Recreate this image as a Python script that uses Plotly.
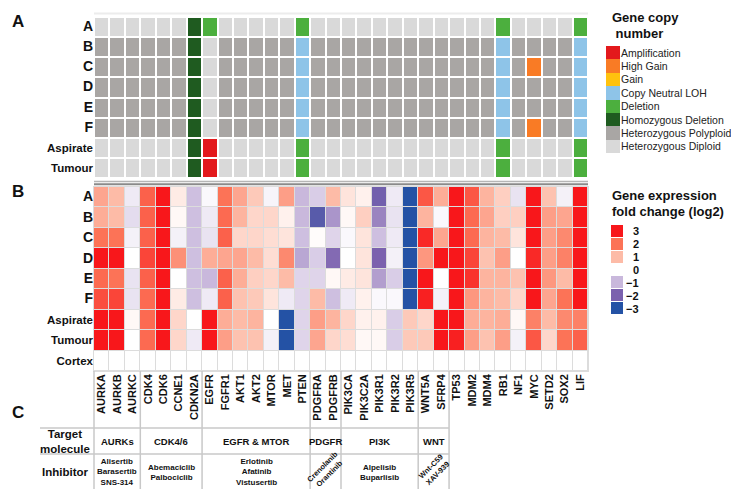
import plotly.graph_objects as go

W, H = 739, 489

genes = ["AURKA", "AURKB", "AURKC", "CDK4", "CDK6", "CCNE1", "CDKN2A", "EGFR", "FGFR1", "AKT1",
         "AKT2", "MTOR", "MET", "PTEN", "PDGFRA", "PDGFRB", "PIK3CA", "PIK3C2A", "PIK3R1", "PIK3R2",
         "PIK3R5", "WNT5A", "SFRP4", "TP53", "MDM2", "MDM4", "RB1", "NF1", "MYC", "SETD2", "SOX2", "LIF"]
rows_a = ["A", "B", "C", "D", "E", "F", "Aspirate", "Tumour"]
rows_b = rows_a + ["Cortex"]

cn_categories = ["Amplification", "High Gain", "Gain", "Copy Neutral LOH", "Deletion",
                 "Homozygous Deletion", "Heterozygous Polyploid", "Heterozygous Diploid"]
cn_colors = ["#E3191C", "#F97B25", "#FFC20E", "#8EC4E8", "#4CAF3E", "#1F5B20", "#A9A6A4", "#D9D9D9"]
# codes: M amplification, H high gain, G gain, L CN-LOH, D deletion, Z homozygous deletion,
#        P heterozygous polyploid, . heterozygous diploid
cn_code_order = "MHGLDZP."

cn_A = "......ZD.....D............D....D"
cn_B = "PPPPPPZ.PPPPPLPPPPPPPPPPPPLPPPPL"
cn_C = "PPPPPPZ.PPPPPLPPPPPPPPPPPPLPHPPL"
cn_D = "PPPPPPZ.PPPPPLPPPPPPPPPPPPLPPPPL"
cn_E = "PPPPPPZ.PPPPPLPPPPPPPPPPPPLPPPPL"
cn_F = "PPPPPPZ.PPPPPLPPPPPPPPPPPPLPHPPL"
cn_Asp = "......ZM.....D............D....D"
cn_Tum = "......ZM.....D............D....D"
cn_rows = [cn_A, cn_B, cn_C, cn_D, cn_E, cn_F, cn_Asp, cn_Tum]

ex_A = [1.3, 1.0, -0.3, 2.2, 3, 0.3, -0.9, -0.1, 2.0, 1.3, 0.8, -0.15, 1.4, -1.0, -0.7, 1.0,
        0.4, 0.2, -2.1, -0.3, -3, 2.3, 1.2, 3, 2.3, 1.1, 0.7, -0.4, 3, 0.9, -0.2, 3]
ex_B = [1.2, 1.0, -0.5, 2.2, 3, 0.1, -0.9, -0.3, 2.1, 1.1, 0.6, 0.6, 0.2, -1.0, -2.4, -1.4,
        0.1, 0.7, -1.6, -0.4, -3, 1.1, -0.1, 3, 2.1, 1.3, 0.7, 0.7, 3, 1.4, 1.3, 3]
ex_C = [2.0, 2.0, -0.2, 2.2, 3, -0.2, -0.9, -0.4, 2.2, 0.6, 0.6, 0.5, 0.4, -0.9, 0.05, -0.6,
        -0.1, 0.4, -0.9, -0.3, -3, 2.8, 1.3, 3, 2.1, 1.1, 1.0, 0.4, 3, 1.4, 1.7, 3]
ex_D = [3, 3, 0.0, 2.5, 3, 1.6, -0.9, 1.2, 1.3, 1.3, 1.0, 0.5, 1.7, -1.2, -0.7, -1.9,
        0.0, 0.4, -2.0, -0.2, -3, 1.5, 3, 3, 2.5, 0.9, 1.4, 0.0, 2.8, 1.4, 1.8, 3]
ex_E = [2.1, 2.0, -0.4, 2.2, 3, 0.0, -0.9, -1.0, 2.2, 1.2, 0.7, 0.6, 1.0, -0.6, -0.6, 0.1,
        0.3, 0.4, -1.3, -0.7, -3, 3, 0.0, 3, 2.7, 1.1, 1.1, 0.9, 3, 1.5, 1.0, 3]
ex_F = [2.4, 2.5, -0.4, 2.1, 3, 0.3, -0.9, -0.3, 2.2, 0.9, 0.8, 0.4, -0.3, -0.6, 1.0, -0.9,
        -0.3, 0.2, -0.1, -0.1, -3, 2.9, -0.2, 3, 1.5, 1.1, 1.0, 0.6, 3, 1.3, 2.0, 3]
ex_Asp = [3, 3, 0.1, 2.1, 3, 0.6, 0.0, 3, 1.2, 1.0, 1.1, 0.0, -3, -0.6, 1.4, 1.1,
          0.6, 0.2, 0.2, -0.7, 0.8, 0.6, 3, 3, 1.2, 1.1, 1.2, 0.1, 1.8, 1.0, 1.7, 1.8]
ex_Tum = [3, 3, 0.0, 2.1, 3, 0.6, -0.3, 3, 1.4, 0.9, 0.9, -0.2, -3, -0.6, 1.3, 0.6,
          0.5, 0.1, 0.1, -0.7, 0.8, 0.8, 3, 2.9, 1.4, 0.9, 1.4, -0.2, 2.3, 0.6, 2.0, 2.2]
ex_Cortex = [0] * 32
ex_rows = [ex_A, ex_B, ex_C, ex_D, ex_E, ex_F, ex_Asp, ex_Tum, ex_Cortex]

ex_levels = [3, 2, 1, 0, -1, -2, -3]
ex_level_labels = ["3", "2", "1", "0", "\u22121", "\u22122", "\u22123"]
ex_colorscale = [[0.0, "#2452A5"], [1 / 6, "#7B61AE"], [2 / 6, "#C9B8DC"], [0.5, "#FFFFFF"],
                 [4 / 6, "#FDBBA7"], [5 / 6, "#FC7357"], [1.0, "#F8171B"]]

groups = ["AURKs", "CDK4/6", "EGFR & MTOR", "PDGFR", "PI3K", "WNT"]
group_spans = [(0, 3), (3, 7), (7, 14), (14, 16), (16, 21), (21, 23)]
inhibitors = ["Alisertib<br>Barasertib<br>SNS-314", "Abemaciclib<br>Palbociclib",
              "Erlotinib<br>Afatinib<br>Vistusertib", "Crenolanib<br>Orantinib",
              "Alpelisib<br>Buparlisib", "Wnt-C59<br>XAV-939"]
inhibitor_angles = [0, 0, 0, -45, 0, -45]

# ---------- geometry (pixels) ----------
X0, X1 = 86, 580
CW = (X1 - X0) / len(genes)
A_TOP, A_BOT = 9, 170
B_TOP, B_BOT = 179, 363
FONT = "Liberation Sans, Arial, sans-serif"


def px(x):
    return x / W


def py(y):
    return 1 - y / H


cn_z = [[cn_code_order.index(c) for c in row] for row in cn_rows]
n_cn = len(cn_categories)
cn_scale = []
for i, c in enumerate(cn_colors):
    cn_scale.append([i / n_cn, c])
    cn_scale.append([(i + 1) / n_cn, c])


def row_tick(r):
    if len(r) == 1:
        return '<span style="font-size:14px">%s</span>' % r
    return r


fig = go.Figure()

fig.add_trace(go.Heatmap(z=cn_z, x=genes, y=rows_a, xaxis="x", yaxis="y",
                         colorscale=cn_scale, zmin=-0.5, zmax=n_cn - 0.5, showscale=False,
                         xgap=2, ygap=2, hoverinfo="skip"))
fig.add_trace(go.Heatmap(z=ex_rows, x=genes, y=rows_b, xaxis="x2", yaxis="y2",
                         colorscale=ex_colorscale, zmin=-3, zmax=3, showscale=False,
                         xgap=1, ygap=1, hoverinfo="skip"))
fig.add_trace(go.Heatmap(z=[[i] for i in range(n_cn)], x=["k"], y=cn_categories,
                         xaxis="x3", yaxis="y3", colorscale=cn_scale, zmin=-0.5,
                         zmax=n_cn - 0.5, showscale=False, hoverinfo="skip"))
fig.add_trace(go.Heatmap(z=[[v] for v in ex_levels], x=["k"], y=ex_level_labels,
                         xaxis="x4", yaxis="y4", colorscale=ex_colorscale, zmin=-3, zmax=3,
                         showscale=False, ygap=1, hoverinfo="skip"))

noax = dict(showgrid=False, zeroline=False, ticks="", showline=False)
fig.update_layout(
    width=W, height=H, margin=dict(l=0, r=0, t=0, b=0),
    paper_bgcolor="white", plot_bgcolor="white",
    font=dict(family=FONT, color="#111"),
    xaxis=dict(domain=[px(X0), px(X1)], anchor="y", showticklabels=False, **noax),
    yaxis=dict(domain=[py(A_BOT), py(A_TOP)], anchor="x", autorange="reversed",
               tickvals=rows_a, ticktext=[row_tick(r) for r in rows_a],
               tickfont=dict(size=11.5, weight="bold", color="#111"), **noax),
    xaxis2=dict(domain=[px(X0), px(X1)], anchor="y2", tickangle=-90,
                tickfont=dict(size=11, weight="bold", color="#111"), **noax),
    yaxis2=dict(domain=[py(B_BOT), py(B_TOP)], anchor="x2", autorange="reversed",
                tickvals=rows_b, ticktext=[row_tick(r) for r in rows_b],
                tickfont=dict(size=11.5, weight="bold", color="#111"), **noax),
    xaxis3=dict(domain=[px(598), px(612)], anchor="y3", showticklabels=False, **noax),
    yaxis3=dict(domain=[py(145), py(38)], anchor="x3", autorange="reversed",
                showticklabels=False, **noax),
    xaxis4=dict(domain=[px(603), px(615)], anchor="y4", showticklabels=False, **noax),
    yaxis4=dict(domain=[py(307), py(217)], anchor="x4", autorange="reversed",
                showticklabels=False, **noax),
)

shapes = []
# light grey background for expression grid lines
shapes.append(dict(type="rect", xref="paper", yref="paper", layer="below",
                   x0=px(X0 - 1), x1=px(X1 + 1), y0=py(B_BOT + 1), y1=py(B_TOP - 1),
                   fillcolor="#dcdcdc", line=dict(width=0)))
# top faint line
shapes.append(dict(type="line", xref="paper", yref="paper", x0=px(X0), x1=px(X1),
                   y0=py(5.5), y1=py(5.5), line=dict(color="#ececec", width=2)))
# double separator between A and B
shapes.append(dict(type="line", xref="paper", yref="paper", x0=px(X0), x1=px(X1),
                   y0=py(173.5), y1=py(173.5), line=dict(color="#b5b5b5", width=1.5)))
shapes.append(dict(type="line", xref="paper", yref="paper", x0=px(X0), x1=px(X1),
                   y0=py(176.2), y1=py(176.2), line=dict(color="#8a8a8a", width=2)))

grid_col = "#c8c8c8"
T_TOP, T_MID, T_BOT = 420, 446, 483
bounds = sorted(set([b for s in group_spans for b in s]))
for b in bounds:
    xb = X0 + b * CW
    shapes.append(dict(type="line", xref="paper", yref="paper", x0=px(xb), x1=px(xb),
                       y0=py(B_BOT), y1=py(T_BOT), line=dict(color=grid_col, width=1.5)))
for yy in (T_TOP, T_MID, T_BOT):
    shapes.append(dict(type="line", xref="paper", yref="paper", x0=px(32),
                       x1=px(X0 + group_spans[-1][1] * CW), y0=py(yy), y1=py(yy),
                       line=dict(color=grid_col, width=1.5)))

ann = []


def text(x, y, s, size, bold=True, xanchor="center", angle=0, color="#111"):
    ann.append(dict(x=px(x), y=py(y), xref="paper", yref="paper", text=s, showarrow=False,
                    xanchor=xanchor, yanchor="middle", textangle=angle, borderpad=0,
                    font=dict(size=size, family=FONT, color=color,
                              weight="bold" if bold else "normal")))


text(3, 14, "A", 17, xanchor="left")
text(3, 183, "B", 17, xanchor="left")
text(3, 404, "C", 17, xanchor="left")

text(603, 10, "Gene copy", 13, xanchor="left")
text(603, 25.5, " number", 13, xanchor="left")
text(603, 187, "Gene expression", 13, xanchor="left")
text(603, 203, "fold change (log2)", 13, xanchor="left")

cn_top, cn_h = 38, (145 - 38) / n_cn
for i, lab in enumerate(cn_categories):
    text(612, cn_top + (i + 0.5) * cn_h, lab, 10.5, bold=False, xanchor="left", color="#222")

leg_top, leg_h = 217, (307 - 217) / len(ex_levels)
for i, lab in enumerate(ex_level_labels):
    text(632, leg_top + (i + 0.5) * leg_h, lab, 11, xanchor="right")

text(57, 433, "Target<br>molecule", 11.5)
text(57, 464, "Inhibitor", 11.5)

for g, (s, e), inh, ang in zip(groups, group_spans, inhibitors, inhibitor_angles):
    cx = X0 + (s + e) / 2 * CW
    text(cx, 433, g, 9.5)
    if ang == 0:
        text(cx, 464, inh, 8, angle=ang)
    else:
        text(cx, 462, inh, 7.5, angle=ang)

fig.update_layout(shapes=shapes, annotations=ann)
fig.write_html("out.html")
